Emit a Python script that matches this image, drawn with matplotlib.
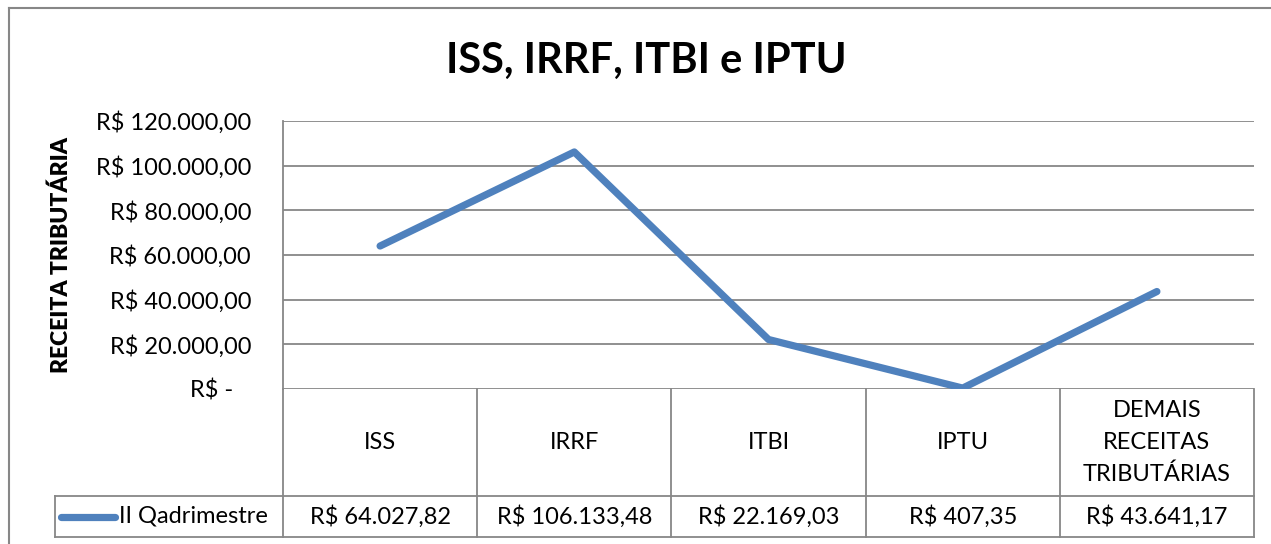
import numpy as np
import matplotlib.pyplot as plt
from matplotlib.lines import Line2D

plt.rcParams['font.family'] = ['Lato', 'DejaVu Sans']

categorias = ["ISS", "IRRF", "ITBI", "IPTU", "DEMAIS\nRECEITAS\nTRIBUTÁRIAS"]
valores = [64027.82, 106133.48, 22169.03, 407.35, 43641.17]
rotulos_valores = ["R$ 64.027,82", "R$ 106.133,48", "R$ 22.169,03", "R$ 407,35", "R$ 43.641,17"]
serie = "II Qadrimestre"
yticks = [0, 20000, 40000, 60000, 80000, 100000, 120000]
ytick_labels = ["R$ -   ", "R$ 20.000,00", "R$ 40.000,00", "R$ 60.000,00",
                "R$ 80.000,00", "R$ 100.000,00", "R$ 120.000,00"]

W, H = 1271, 544
cor = "#4F81BD"
cinza = "#878787"
fs = 17

fig = plt.figure(figsize=(W / 100, H / 100), dpi=100)

def px(x0, y0, x1, y1):
    # caixa em pixels -> fracao da figura
    return [x0 / W, 1 - y1 / H, (x1 - x0) / W, (y1 - y0) / H]

# moldura do grafico (so topo e esquerda aparecem)
fig.add_artist(Line2D([9 / W, 1], [1 - 8 / H, 1 - 8 / H], color=cinza, lw=1.5))
fig.add_artist(Line2D([9 / W, 9 / W], [0, 1 - 8 / H], color=cinza, lw=1.5))

ax = fig.add_axes(px(283, 121, 1254, 389))
x = np.arange(len(categorias))
ax.plot(x, valores, color=cor, lw=5.2, solid_capstyle="round", solid_joinstyle="round", zorder=3)
ax.set_xlim(-0.5, len(categorias) - 0.5)
ax.set_ylim(0, 120000)
ax.set_yticks(yticks)
ax.set_yticklabels(ytick_labels, fontsize=fs)
ax.set_xticks([])
ax.tick_params(axis="y", length=0, pad=23)
ax.grid(axis="y", color=cinza, lw=1.3)
for s in ["top", "right", "bottom"]:
    ax.spines[s].set_visible(False)
ax.spines["left"].set_color(cinza)
ax.spines["left"].set_linewidth(1.3)
ax.set_ylabel("RECEITA TRIBUTÁRIA", fontsize=16.5, fontweight="heavy")
ax.yaxis.set_label_coords((72 - 283) / 971, 0.5)

fig.text(646 / W, 1 - 61 / H, "ISS, IRRF, ITBI e IPTU", ha="center", va="center",
         fontsize=30, fontweight="bold")

# tabela de dados
tb = fig.add_axes(px(283, 389, 1254, 537))
tb.set_xlim(-0.5, len(categorias) - 0.5)
tb.set_ylim(0, 1)
tb.axis("off")
sep = (537 - 496) / 148
esq = -0.5 - (283 - 55) / (971 / len(categorias))
kw = dict(color=cinza, lw=1.3, clip_on=False)
tb.plot([esq, 4.5], [sep, sep], **kw)
tb.plot([esq, 4.5], [0, 0], **kw)
tb.plot([esq, esq], [0, sep], **kw)
for b in np.arange(-0.5, len(categorias), 1.0):
    tb.plot([b, b], [0, 1], **kw)
for i, (c, v) in enumerate(zip(categorias, rotulos_valores)):
    tb.text(i, (1 + sep) / 2, c, ha="center", va="center", fontsize=fs, linespacing=1.65)
    tb.text(i, sep / 2, v, ha="center", va="center", fontsize=fs)
tb.plot([esq + 0.03, esq + 0.31], [sep / 2, sep / 2], color=cor, lw=5.2,
        solid_capstyle="round", clip_on=False)
tb.text(esq + 0.33, sep / 2, serie, ha="left", va="center", fontsize=fs)

fig.savefig("out.png", dpi=100)
